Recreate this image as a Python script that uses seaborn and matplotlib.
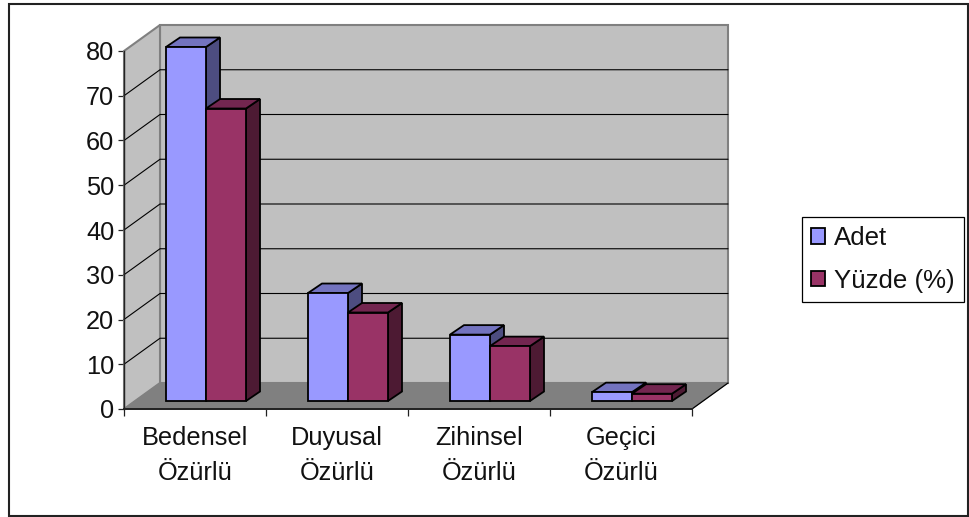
import matplotlib
matplotlib.use("Agg")
import matplotlib.pyplot as plt
from matplotlib.patches import Rectangle, Polygon
import pandas as pd
import seaborn as sns

categories = ["Bedensel\nÖzürlü", "Duyusal\nÖzürlü", "Zihinsel\nÖzürlü", "Geçici\nÖzürlü"]
adet = [80, 24.4, 15, 2]
yuzde = [66.1, 20, 12.4, 1.65]
series_names = ["Adet", "Yüzde (%)"]
y_ticks = [0, 10, 20, 30, 40, 50, 60, 70, 80]

sns.set_theme(style="white")
plt.rcParams["font.family"] = ["Liberation Sans", "DejaVu Sans"]

W, H = 970, 517
fig = plt.figure(figsize=(W / 100, H / 100), dpi=100, facecolor="white")

def box(x0, y_top, x1, y_bot):
    return [x0 / W, 1 - y_bot / H, (x1 - x0) / W, (y_bot - y_top) / H]

fig.add_artist(Rectangle((9.5 / W, 1 - 515.5 / H), 958.5 / W, 512 / H, transform=fig.transFigure,
                         fill=False, ec="#222222", lw=1.5))

# wall / floor axes: front plane of the 3-D box
ax = fig.add_axes(box(124, 51, 692, 409))
ax.set_xlim(-0.5, 3.5)
ax.set_ylim(0, 80)
ax.patch.set_visible(False)
n = len(categories)
wdx = 36 / 142
wdy = 26 / 4.475
x0, x1 = -0.5, n - 0.5
y0, y1 = y_ticks[0], y_ticks[-1]
wall = "#C0C0C0"
edge = "#808080"
ax.fill([x0 + wdx, x1 + wdx, x1 + wdx, x0 + wdx], [y0 + wdy, y0 + wdy, y1 + wdy, y1 + wdy],
        color=wall, ec=edge, lw=1.5, clip_on=False, zorder=1)
ax.fill([x0, x0 + wdx, x0 + wdx, x0], [y0, y0 + wdy, y1 + wdy, y1],
        color=wall, ec=edge, lw=1.5, clip_on=False, zorder=1)
ax.fill([x0, x1, x1 + wdx, x0 + wdx], [y0, y0, y0 + wdy, y0 + wdy],
        color=edge, ec=edge, lw=0.5, clip_on=False, zorder=1.5)
for t in y_ticks[1:-1]:
    ax.plot([x0, x0 + wdx, x1 + wdx], [t, t + wdy, t + wdy], color="black", lw=0.8,
            clip_on=False, zorder=1.2)
ax.plot([x1, x1 + wdx], [y0, y0 + wdy], color="black", lw=0.9, clip_on=False, zorder=1.6)

for s in ("top", "right"):
    ax.spines[s].set_visible(False)
for s in ("left", "bottom"):
    ax.spines[s].set_color("#222222")
    ax.spines[s].set_linewidth(1.0)
    ax.spines[s].set_zorder(2)
ax.spines["bottom"].set_linewidth(1.4)
ax.set_yticks(y_ticks)
ax.set_yticklabels([str(t) for t in y_ticks], fontsize=18.3, color="#111111")
ax.set_xticks([x0 + i for i in range(n + 1)])
ax.set_xticklabels([])
ax.set_xticks(range(n), minor=True)
ax.set_xticklabels(categories, minor=True, fontsize=18.3, color="#111111", linespacing=1.6)
ax.tick_params(axis="y", which="major", left=True, length=4.5, width=0.9, color="#222222", pad=2.5)
ax.tick_params(axis="x", which="major", bottom=True, length=5, width=0.9, color="#222222")
ax.tick_params(axis="x", which="minor", bottom=False, length=0, pad=12)

# bars axes: plane of the bar fronts, set back inside the box
axb = fig.add_axes(box(135, 47, 703, 401))
df = pd.DataFrame({
    "kategori": categories * 2,
    "seri": [series_names[0]] * n + [series_names[1]] * n,
    "deger": adet + yuzde,
})
colors = ["#9999FF", "#993366"]
tops = ["#7373BF", "#732650"]
sides = ["#4D4D80", "#4D1A33"]
sns.barplot(data=df, x="kategori", y="deger", hue="seri", hue_order=series_names,
            order=categories, palette=colors, width=40 * 2 / 142, gap=0, dodge=True,
            saturation=1, edgecolor="black", linewidth=1.3, ax=axb, zorder=3)
axb.set_xlim(-0.5, 3.5)
axb.set_ylim(0, 80)
axb.patch.set_visible(False)
axb.set_axis_off()
handles, labels = axb.get_legend_handles_labels()
axb.get_legend().remove()

bdx = 14 / 142
bdy = 9.5 / (354 / 80)
for cat in range(n):
    for k, cont in enumerate(axb.containers):
        p = cont[cat]
        px, w, h = p.get_x(), p.get_width(), p.get_height()
        z = 3 + cat + k * 0.1
        p.set_zorder(z + 0.02)
        axb.add_patch(Polygon([(px + w, 0), (px + w + bdx, bdy), (px + w + bdx, h + bdy), (px + w, h)],
                              fc=sides[k], ec="black", lw=1.3, clip_on=False, zorder=z))
        axb.add_patch(Polygon([(px, h), (px + bdx, h + bdy), (px + w + bdx, h + bdy), (px + w, h)],
                              fc=tops[k], ec="black", lw=1.3, clip_on=False, zorder=z + 0.01))
        p.set_clip_on(False)

leg = fig.legend(handles, labels, loc="upper left",
                 bbox_to_anchor=(802 / W, 1 - 217 / H), bbox_transform=fig.transFigure,
                 fontsize=18.6, frameon=True, fancybox=False, edgecolor="black", facecolor="white",
                 framealpha=1, borderpad=0.35, labelspacing=0.72, handlelength=0.53, handleheight=0.53,
                 handletextpad=0.36, borderaxespad=0)
leg.get_frame().set_linewidth(0.9)
for t in leg.get_texts():
    t.set_color("#111111")

fig.savefig("out.png", dpi=100)
